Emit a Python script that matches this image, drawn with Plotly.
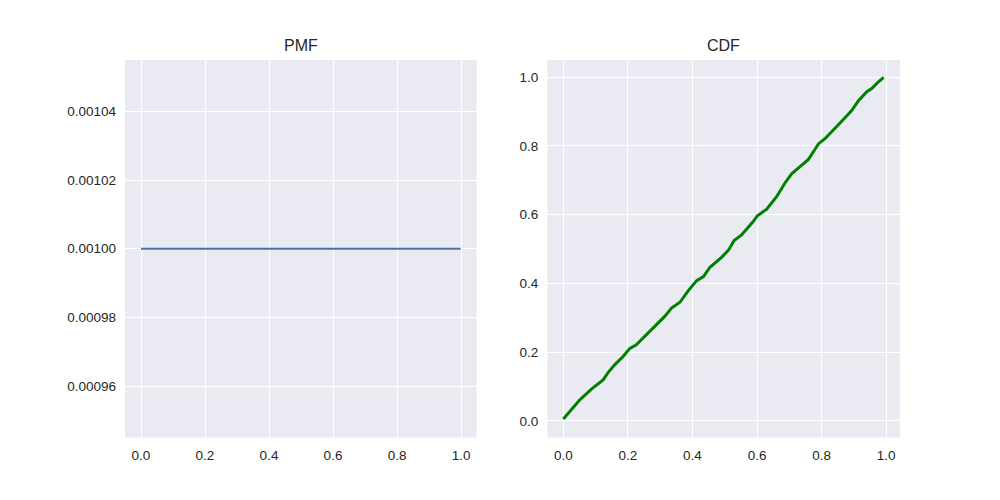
import plotly.graph_objects as go

# PMF: 1000 equally likely values 0.000 .. 0.999, each with p = 0.001
PMF_X = [0.0, 0.999]
PMF_Y = [0.001, 0.001]

# CDF
CDF_X = [0.0, 0.051, 0.087, 0.123, 0.139, 0.159, 0.185, 0.206, 0.226, 0.247,
         0.273, 0.314, 0.335, 0.361, 0.387, 0.413, 0.434, 0.454, 0.490, 0.511,
         0.529, 0.552, 0.588, 0.601, 0.630, 0.661, 0.687, 0.707, 0.733, 0.759,
         0.775, 0.790, 0.811, 0.837, 0.868, 0.893, 0.914, 0.940, 0.956, 0.976,
         0.992]
CDF_Y = [0.005, 0.061, 0.092, 0.119, 0.141, 0.163, 0.187, 0.211, 0.221, 0.241,
         0.265, 0.304, 0.328, 0.345, 0.379, 0.408, 0.420, 0.447, 0.476, 0.496,
         0.525, 0.541, 0.580, 0.597, 0.616, 0.653, 0.693, 0.719, 0.740, 0.761,
         0.784, 0.806, 0.822, 0.849, 0.878, 0.903, 0.932, 0.958, 0.968, 0.987,
         1.0]

X_TICKS = [0.0, 0.2, 0.4, 0.6, 0.8, 1.0]
PMF_TICKS = [0.00096, 0.00098, 0.00100, 0.00102, 0.00104]
CDF_TICKS = [0.0, 0.2, 0.4, 0.6, 0.8, 1.0]

FONT = 'Liberation Sans, Arial, sans-serif'
TEXT = '#262626'
BG = '#EAEAF2'

# page body has an 8px margin, so the figure is 992x492 and domains
# are measured from that offset
W, H, OFF = 992, 492, 8


def px_x(px):
    return (px - OFF) / W


def px_y(px):
    return 1 - (px - OFF) / H


fig = go.Figure()
fig.add_trace(go.Scatter(x=PMF_X, y=PMF_Y, mode='lines',
                         line=dict(color='#4C72B0', width=2.2),
                         xaxis='x', yaxis='y', showlegend=False))
fig.add_trace(go.Scatter(x=CDF_X, y=CDF_Y, mode='lines',
                         line=dict(color='#008000', width=3),
                         xaxis='x2', yaxis='y2', showlegend=False))

axis_style = dict(
    showgrid=True, gridcolor='white', gridwidth=1.4,
    zeroline=False, showline=False, ticks='',
    tickfont=dict(family=FONT, size=13.5, color=TEXT),
    ticklabelstandoff=8,
)

y_dom = [px_y(437.5), px_y(60)]
left_dom = [px_x(125), px_x(476.7)]
right_dom = [px_x(547.3), px_x(900)]

fig.update_layout(
    width=W, height=H,
    margin=dict(l=0, r=0, t=0, b=0),
    paper_bgcolor='white', plot_bgcolor=BG,
    font=dict(family=FONT, color=TEXT),
    xaxis=dict(domain=left_dom, range=[-0.05, 1.049],
               tickvals=X_TICKS, tickformat='.1f', anchor='y', **axis_style),
    yaxis=dict(domain=y_dom, range=[0.000945, 0.001055],
               tickvals=PMF_TICKS, tickformat='.5f', anchor='x', **axis_style),
    xaxis2=dict(domain=right_dom, range=[-0.0497, 1.0427],
                tickvals=X_TICKS, tickformat='.1f', anchor='y2', **axis_style),
    yaxis2=dict(domain=y_dom, range=[-0.0486, 1.0503],
                tickvals=CDF_TICKS, tickformat='.1f', anchor='x2', **axis_style),
    annotations=[
        dict(text='PMF', x=sum(left_dom) / 2, y=y_dom[1], xref='paper', yref='paper',
             xanchor='center', yanchor='bottom', yshift=4, showarrow=False,
             font=dict(family=FONT, size=16, color=TEXT)),
        dict(text='CDF', x=sum(right_dom) / 2, y=y_dom[1], xref='paper', yref='paper',
             xanchor='center', yanchor='bottom', yshift=4, showarrow=False,
             font=dict(family=FONT, size=16, color=TEXT)),
    ],
)

fig.write_html('out.html')
